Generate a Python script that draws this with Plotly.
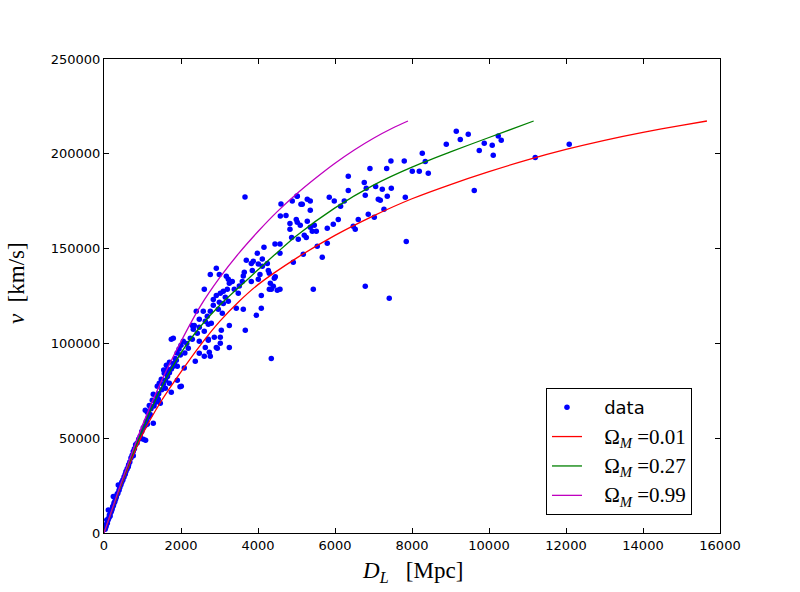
import plotly.graph_objects as go

# ---- scattered data (D_L [Mpc], v [km/s]) ----
D_data = [
    9150, 9461, 9254, 8890, 8267, 8345, 8007, 8189, 8423, 9747, 9877, 10084, 10110, 10240, 10318, 9617, 11201, 12084,
    6908, 7342, 7453, 7799, 6345, 6345, 6760, 6812, 6786, 7056, 7228, 7462, 7358, 7124, 7176, 7826, 7272, 6864, 7020,
    6604, 6474, 6526, 6085, 5955, 5799, 5799, 5539, 5669, 5176, 4916, 7851, 5436, 6786, 7409, 5851, 5981, 6241, 6145,
    5020, 4890, 5280, 5358, 5150, 5358, 5280, 4994, 5020, 5098, 5358, 5410, 5514, 5462, 4830, 4830, 5202, 5254, 5046, 4874,
    4155, 4441, 4571, 4571, 3982, 4112, 3878, 4008, 4242, 4268, 4112, 4294, 4051, 3852, 3696, 3826, 3644, 3618, 3826,
    3592, 4008, 4320, 4501, 4346, 4449,
    2917, 2761, 2995, 3177, 3229, 3332, 3255, 3203, 3384, 3488, 3514, 3099, 3021, 3151, 2605, 2917, 2839, 2995, 3099,
    3229, 2839, 2761, 2969, 3073, 2683, 2579, 2397, 2475, 2631, 2787, 2345, 2475, 2605, 2709, 2865, 3021, 2917, 3255,
    3255, 3047, 3618, 3436, 3670, 3956, 4086, 4086,
    3662, 4597, 4727, 4580, 5012, 5116, 4345, 4571, 4398, 4294, 4424,
    1800, 1748, 2059, 2241, 2709, 3021, 2943, 2735, 2475, 2761, 2605, 2371, 2085, 2007, 1904, 1748, 2189, 1982, 1878,
    1826, 1644, 1566, 1488, 1436, 1384, 1280, 1254, 1176, 1462, 1410, 1592, 1696, 1124, 1072, 1280, 1124, 1904, 2293, 2709,
    2319, 2423, 2293, 2631, 2475, 1974,
    1080, 1021, 761, 631, 371, 242, 112, 70, 52,
    30, 45, 60, 85, 95, 110, 130, 140, 160, 175, 190, 210, 225, 245, 260, 280, 300, 320, 340, 360, 390, 410, 440, 460,
    490, 520, 550, 570, 600, 640, 670, 700, 730, 760, 790, 820, 860, 900, 940, 980, 1020, 1060, 1100, 1150, 1200, 1220,
    1300, 1340, 1380, 1420, 1500, 1540, 1600, 1650, 1700, 1750, 1800, 1850, 1900, 1950, 2000, 2100, 2150, 1700, 1620, 1550,
]
v_data = [
    211900, 210300, 207600, 205000, 200300, 196000, 190800, 190800, 189700, 201800, 205500, 204500, 199200, 209400, 207100, 180700, 198100, 205000,
    192300, 192300, 196200, 196200, 188100, 180700, 184900, 181800, 178100, 182800, 181300, 181800, 177600, 176000, 175500, 177100, 170700, 168100, 166500,
    165400, 161800, 160200, 165400, 162800, 160700, 152800, 151200, 145400, 147000, 142800, 153800, 128500, 130100, 123800, 177100, 175100, 175100, 172300,
    177600, 175100, 176000, 175100, 173400, 170200, 164400, 165400, 163900, 162300, 161300, 159200, 159200, 162300, 163300, 160200, 157000, 155900, 154900, 155900,
    150700, 152400, 152400, 147500, 147500, 144500, 143300, 141900, 142200, 138500, 140700, 137000, 136400, 138500, 143800, 142200, 137500, 135500, 132700,
    132700, 133800, 131700, 128000, 128500, 135200,
    139600, 136400, 136400, 135400, 133800, 132700, 131700, 128500, 128500, 126400, 130300, 127500, 126400, 124300, 128500, 125300, 123200, 121700, 121100,
    122200, 120100, 116900, 118000, 115900, 114300, 116900, 116900, 112700, 111700, 110600, 109500, 108500, 106400, 102200, 103200, 103200, 97900, 97900,
    109500, 106900, 118000, 118500, 106900, 114800, 118500, 125300,
    177200, 173500, 167500, 167200, 177700, 173400, 92100, 128500, 130100, 128500, 134300,
    102700, 102200, 101100, 102700, 101600, 100100, 97400, 95300, 94800, 93200, 93200, 90600, 87000, 77400, 80500, 74200, 97400, 93900, 91100,
    89600, 86300, 84200, 81100, 79000, 77400, 73200, 70000, 67300, 68400, 70500, 76300, 79000, 63700, 64800, 57900, 57300, 87900, 109500, 110100,
    107400, 105300, 102200, 97900, 101100, 77200,
    48900, 49400, 40800, 35000, 25300, 19200, 12100, 6900, 3300,
    2000, 3800, 4500, 5200, 6500, 7200, 8000, 9500, 9000, 10800, 11500, 12500, 13800, 14500, 15800, 16500, 17800, 19000, 20500, 21000, 22500, 24000, 25500, 26800,
    28000, 29500, 31000, 32500, 33800, 36000, 37500, 39500, 41000, 43000, 44500, 46500, 47500, 49500, 51000, 53500, 55500, 56500, 59000, 61000, 62500, 65500,
    67000, 69000, 71500, 73500, 75500, 78500, 80500, 82500, 84500, 86500, 88000, 92000, 95000, 97000, 99000, 95000, 100000, 90000, 88500, 86000,
]

# ---- model curves ----
D_red = [0, 500, 1000, 1500, 2000, 2500, 3000, 3500, 4000, 5000, 6000, 7000, 8000, 9000, 10000, 11000, 12000, 13000, 14000, 15000, 15660]
v_red = [0, 28000, 52000, 70000, 85000, 99000, 111500, 122000, 131000, 145000, 157000, 167300, 176300, 183800, 190600, 196800, 202300, 207100, 211300, 215000, 217300]

D_green = [0, 500, 1000, 1500, 2000, 2500, 3000, 3500, 4000, 4500, 5000, 6000, 7000, 8000, 9000, 10000, 11160]
v_green = [0, 28800, 54500, 77000, 95000, 108800, 120000, 129500, 138800, 148000, 156800, 171500, 183500, 193000, 201000, 208600, 217300]

D_mag = [0, 500, 1000, 1500, 2000, 2500, 3000, 3500, 4000, 4500, 5000, 5500, 6000, 6500, 7000, 7500, 7895]
v_mag = [0, 29500, 57000, 80500, 101000, 119500, 134500, 147500, 159000, 169500, 178800, 187200, 195000, 202000, 208200, 213600, 217300]

x_ticks = [0, 2000, 4000, 6000, 8000, 10000, 12000, 14000, 16000]
y_ticks = [0, 50000, 100000, 150000, 200000, 250000]

SERIF = "'Liberation Serif', 'DejaVu Serif', serif"
PAD = "&nbsp;&nbsp;&nbsp;"

fig = go.Figure()
fig.add_trace(go.Scatter(x=D_data, y=v_data, mode="markers", name=PAD + "data",
                         marker=dict(color="#0000ff", size=5.5, line=dict(width=0)),
                         legendgroup="a"))
for D, v, col, lab, grp in [(D_red, v_red, "#ff0000", "0.01", "b"),
                            (D_green, v_green, "#008000", "0.27", "c"),
                            (D_mag, v_mag, "#bf00bf", "0.99", "d")]:
    fig.add_trace(go.Scatter(
        x=D, y=v, mode="lines", line=dict(color=col, width=1.3, shape="spline", smoothing=0.8),
        name=PAD + f"<span style=\"font-family:{SERIF};font-size:21px\">Ω<sub><i>M</i></sub> =" + lab + "</span>",
        legendgroup=grp))

axis_common = dict(showgrid=False, zeroline=False, showline=True, linecolor="black", linewidth=1,
                   mirror="ticks", ticks="inside", ticklen=5, tickcolor="black",
                   tickfont=dict(family="DejaVu Sans", size=13, color="black"))

fig.update_layout(
    width=800, height=592,
    margin=dict(l=104, r=80, t=59, b=59),
    paper_bgcolor="white", plot_bgcolor="white",
    xaxis=dict(range=[0, 16000], tickvals=x_ticks, ticktext=[str(t) for t in x_ticks], **axis_common),
    yaxis=dict(range=[0, 250000], tickvals=y_ticks, ticktext=[str(t) for t in y_ticks], **axis_common),
    showlegend=True,
    legend=dict(x=0.7175, y=0.306, xanchor="left", yanchor="top",
                bordercolor="black", borderwidth=1, bgcolor="white",
                font=dict(family="DejaVu Sans", size=18, color="black"),
                traceorder="grouped", tracegroupgap=3, itemwidth=30),
    annotations=[
        dict(text="<i>v</i>  [km/s]", xref="paper", yref="paper", x=-0.143, y=0.527,
             xanchor="center", yanchor="middle", textangle=-90, showarrow=False,
             font=dict(family=SERIF, size=23, color="black")),
        dict(text="<i>D</i><sub><i>L</i></sub>   [Mpc]", xref="paper", yref="paper", x=0.5016, y=-0.083,
             xanchor="center", yanchor="middle", showarrow=False,
             font=dict(family=SERIF, size=23, color="black")),
    ],
)

fig.write_html("out.html")
